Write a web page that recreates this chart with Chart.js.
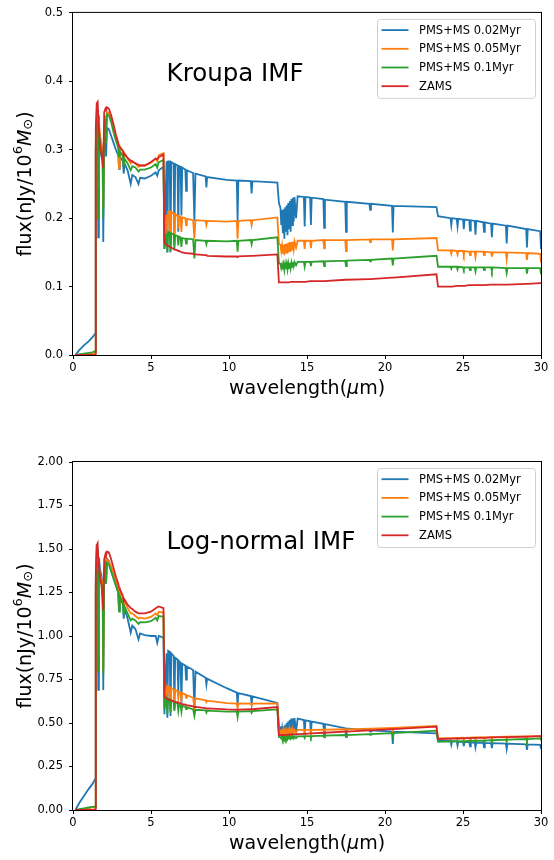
<!DOCTYPE html>
<html lang="en">
<head>
<meta charset="utf-8">
<title>SED: Kroupa vs Log-normal IMF</title>
<script src="https://cdn.jsdelivr.net/npm/chart.js"></script>
<style>
    body { margin: 0; background: #fff; }
    .chart-box { width: 554px; height: 430px; position: relative; }
    canvas { display: block; }
</style>
</head>
<body>
<div class="chart-box"><canvas id="kroupaChart" width="554" height="430"></canvas></div>
<div class="chart-box"><canvas id="lognormChart" width="554" height="430"></canvas></div>

<script>
// wavelength grid (micron), shared by every spectrum
const wavelength = [
    0.15, 0.4, 0.7, 1.0, 1.25, 1.44,
    1.46, 1.52, 1.58, 1.62, 1.66, 1.74, 1.82, 1.9, 1.94, 2.0,
    2.08, 2.12, 2.18, 2.3, 2.45, 2.6, 2.75, 2.9, 2.95, 3.0,
    3.2, 3.25, 3.3, 3.5, 3.7, 3.8, 4.0, 4.2, 4.3, 4.6,
    5.0, 5.3, 5.4, 5.5, 5.8,
    5.86, 5.92, 6.0, 6.05, 6.1, 6.2, 6.25, 6.3, 6.45, 6.5,
    6.55, 6.7, 6.75, 6.8, 6.9, 6.95, 7.0, 7.2, 7.25, 7.3,
    7.7, 7.78, 7.85, 8.5, 8.55, 8.6, 9.85, 10.5, 10.55, 10.6,
    11.4, 11.45, 11.5, 13.1,
    13.2, 13.3, 13.35, 13.4, 13.45, 13.5, 13.55, 13.6, 13.65, 13.7,
    13.75, 13.8, 13.85, 13.9, 13.95, 14.0, 14.05, 14.1, 14.15, 14.2,
    14.3, 14.4,
    14.8, 14.85, 14.9, 15.2, 15.25, 15.3, 16.05, 16.1,
    16.15, 17.45, 17.5, 17.55, 19.0, 19.05, 19.1, 20.45, 20.5, 20.55,
    23.3,
    23.4, 24.2, 24.25, 24.3, 24.6, 24.65, 24.7, 25.0, 25.05, 25.1,
    25.4, 25.45, 25.5, 25.75, 25.8, 25.85, 26.3, 26.35, 26.4, 26.8,
    26.85, 26.9, 27.75, 27.8, 27.85, 29.05, 29.1, 29.15, 29.95, 30.0
];

const seriesNames = ["PMS+MS 0.02Myr", "PMS+MS 0.05Myr", "PMS+MS 0.1Myr", "ZAMS"];
const seriesColors = ["#1f77b4", "#ff7f0e", "#2ca02c", "#d62728"];

const xTicks = [0, 5, 10, 15, 20, 25, 30];
const kroupaTicks = [0, 0.1, 0.2, 0.3, 0.4, 0.5];
const lognormTicks = [0, 0.25, 0.5, 0.75, 1.0, 1.25, 1.5, 1.75, 2.0];

// Kroupa IMF, flux (nJy / 1e6 Msun)
const kroupa002 = [
    0, 0.007, 0.014, 0.02, 0.026, 0.032,
    0.30, 0.335, 0.33, 0.172, 0.32, 0.30, 0.29, 0.285, 0.165, 0.31,
    0.325, 0.29, 0.332, 0.33, 0.32, 0.31, 0.30, 0.292, 0.272, 0.29,
    0.283, 0.265, 0.28, 0.27, 0.25, 0.263, 0.26, 0.25, 0.259, 0.258,
    0.262, 0.267, 0.262, 0.27, 0.275,
    0.155, 0.22, 0.283, 0.15, 0.283, 0.283, 0.15, 0.282, 0.28, 0.16,
    0.279, 0.277, 0.18, 0.276, 0.275, 0.204, 0.274, 0.271, 0.24, 0.27,
    0.266, 0.196, 0.265, 0.261, 0.245, 0.26, 0.256, 0.255, 0.196, 0.255,
    0.254, 0.236, 0.254, 0.252,
    0.222, 0.215, 0.19, 0.212, 0.178, 0.213, 0.17, 0.216, 0.18, 0.219,
    0.175, 0.222, 0.185, 0.225, 0.18, 0.228, 0.19, 0.23, 0.195, 0.231,
    0.2, 0.232,
    0.231, 0.188, 0.231, 0.23, 0.19, 0.23, 0.228, 0.186,
    0.227, 0.224, 0.18, 0.224, 0.221, 0.212, 0.221, 0.218, 0.179, 0.218,
    0.216,
    0.203, 0.2, 0.19, 0.2, 0.199, 0.188, 0.199, 0.198, 0.184, 0.198,
    0.197, 0.182, 0.197, 0.196, 0.176, 0.196, 0.194, 0.18, 0.194, 0.192,
    0.172, 0.192, 0.189, 0.163, 0.189, 0.184, 0.157, 0.184, 0.181, 0.155
];
const kroupa005 = [
    0, 0, 0.001, 0.002, 0.003, 0.004,
    0.31, 0.352, 0.345, 0.244, 0.34, 0.32, 0.31, 0.30, 0.216, 0.33,
    0.35, 0.33, 0.355, 0.354, 0.345, 0.332, 0.32, 0.31, 0.273, 0.305,
    0.298, 0.28, 0.295, 0.287, 0.28, 0.283, 0.28, 0.275, 0.277, 0.277,
    0.281, 0.287, 0.283, 0.292, 0.295,
    0.16, 0.19, 0.205, 0.17, 0.21, 0.21, 0.17, 0.209, 0.207, 0.175,
    0.206, 0.204, 0.185, 0.203, 0.202, 0.18, 0.201, 0.2, 0.19, 0.199,
    0.197, 0.17, 0.197, 0.196, 0.19, 0.196, 0.195, 0.196, 0.17, 0.196,
    0.197, 0.19, 0.197, 0.201,
    0.163, 0.161, 0.152, 0.16, 0.148, 0.161, 0.146, 0.162, 0.149, 0.163,
    0.148, 0.164, 0.152, 0.165, 0.151, 0.165, 0.154, 0.166, 0.155, 0.166,
    0.157, 0.167,
    0.167, 0.155, 0.167, 0.167, 0.156, 0.167, 0.168, 0.156,
    0.168, 0.168, 0.152, 0.168, 0.169, 0.165, 0.169, 0.169, 0.153, 0.169,
    0.171,
    0.153, 0.153, 0.148, 0.153, 0.152, 0.147, 0.152, 0.152, 0.147, 0.152,
    0.151, 0.146, 0.151, 0.151, 0.143, 0.151, 0.151, 0.146, 0.151, 0.15,
    0.144, 0.15, 0.15, 0.14, 0.15, 0.149, 0.139, 0.149, 0.148, 0.135
];
const kroupa01 = [
    0, 0.001, 0.002, 0.003, 0.004, 0.006,
    0.30, 0.342, 0.335, 0.2, 0.33, 0.31, 0.3, 0.29, 0.2, 0.32,
    0.345, 0.31, 0.352, 0.35, 0.34, 0.325, 0.313, 0.303, 0.29, 0.298,
    0.29, 0.275, 0.287, 0.28, 0.27, 0.276, 0.274, 0.268, 0.271, 0.271,
    0.274, 0.279, 0.274, 0.282, 0.285,
    0.155, 0.165, 0.178, 0.15, 0.18, 0.179, 0.152, 0.178, 0.176, 0.155,
    0.175, 0.174, 0.16, 0.173, 0.172, 0.158, 0.171, 0.17, 0.163, 0.17,
    0.169, 0.141, 0.168, 0.167, 0.162, 0.167, 0.166, 0.167, 0.151, 0.167,
    0.168, 0.162, 0.168, 0.172,
    0.134, 0.133, 0.127, 0.132, 0.125, 0.132, 0.124, 0.133, 0.126, 0.133,
    0.125, 0.134, 0.127, 0.135, 0.127, 0.135, 0.129, 0.136, 0.13, 0.136,
    0.131, 0.136,
    0.136, 0.129, 0.136, 0.136, 0.13, 0.136, 0.137, 0.13,
    0.137, 0.138, 0.13, 0.138, 0.139, 0.137, 0.139, 0.141, 0.131, 0.141,
    0.145,
    0.129, 0.129, 0.126, 0.129, 0.129, 0.125, 0.129, 0.128, 0.125, 0.128,
    0.128, 0.124, 0.128, 0.128, 0.122, 0.128, 0.128, 0.124, 0.128, 0.128,
    0.123, 0.128, 0.127, 0.12, 0.127, 0.127, 0.119, 0.127, 0.127, 0.118
];
const kroupaZams = [
    0, 0, 0, 0, 0, 0.001,
    0.33, 0.368, 0.37, 0.35, 0.33, 0.30, 0.295, 0.28, 0.273, 0.355,
    0.36, 0.358, 0.362, 0.36, 0.35, 0.337, 0.322, 0.31, 0.305, 0.305,
    0.298, 0.292, 0.294, 0.288, 0.284, 0.283, 0.28, 0.278, 0.277, 0.277,
    0.282, 0.287, 0.286, 0.289, 0.293,
    0.165, 0.162, 0.161, 0.16, 0.16, 0.158, 0.157, 0.157, 0.155, 0.154,
    0.154, 0.153, 0.152, 0.152, 0.151, 0.15, 0.15, 0.149, 0.149, 0.149,
    0.148, 0.147, 0.147, 0.146, 0.146, 0.145, 0.144, 0.144, 0.143, 0.144,
    0.145, 0.145, 0.145, 0.147,
    0.106, 0.106, 0.106, 0.106, 0.106, 0.106, 0.106, 0.106, 0.106, 0.106,
    0.106, 0.106, 0.106, 0.106, 0.107, 0.107, 0.107, 0.107, 0.107, 0.107,
    0.107, 0.107,
    0.107, 0.107, 0.107, 0.108, 0.108, 0.108, 0.108, 0.108,
    0.108, 0.11, 0.11, 0.11, 0.111, 0.111, 0.111, 0.113, 0.113, 0.113,
    0.118,
    0.1, 0.1, 0.1, 0.1, 0.101, 0.101, 0.101, 0.101, 0.101, 0.101,
    0.102, 0.102, 0.102, 0.102, 0.102, 0.102, 0.102, 0.102, 0.102, 0.103,
    0.103, 0.103, 0.103, 0.103, 0.103, 0.104, 0.104, 0.104, 0.105, 0.105
];

// Log-normal IMF
const lognorm002 = [
    0, 0.04, 0.08, 0.12, 0.15, 0.18,
    1.3, 1.51, 1.5, 0.69, 1.45, 1.38, 1.35, 1.3, 0.69, 1.35,
    1.42, 1.3, 1.445, 1.43, 1.38, 1.33, 1.29, 1.25, 1.15, 1.23,
    1.18, 1.1, 1.16, 1.1, 1.02, 1.06, 1.04, 0.98, 1.015, 1.005,
    1.0, 1.0, 0.96, 1.0, 0.99,
    0.55, 0.75, 0.9, 0.53, 0.915, 0.91, 0.54, 0.9, 0.885, 0.58,
    0.875, 0.865, 0.66, 0.855, 0.845, 0.613, 0.84, 0.83, 0.75, 0.825,
    0.805, 0.575, 0.795, 0.76, 0.72, 0.755, 0.7, 0.675, 0.6, 0.672,
    0.655, 0.61, 0.653, 0.615,
    0.48, 0.475, 0.44, 0.47, 0.42, 0.48, 0.41, 0.49, 0.42, 0.5,
    0.42, 0.51, 0.43, 0.518, 0.43, 0.525, 0.44, 0.527, 0.45, 0.528,
    0.45, 0.525,
    0.517, 0.43, 0.515, 0.51, 0.44, 0.508, 0.495, 0.43,
    0.494, 0.47, 0.42, 0.469, 0.458, 0.45, 0.458, 0.45, 0.38, 0.45,
    0.44,
    0.402, 0.397, 0.375, 0.396, 0.394, 0.37, 0.393, 0.392, 0.368, 0.391,
    0.39, 0.366, 0.389, 0.388, 0.36, 0.387, 0.386, 0.36, 0.386, 0.384,
    0.355, 0.384, 0.381, 0.35, 0.381, 0.377, 0.345, 0.377, 0.374, 0.35
];
const lognorm005 = [
    0, 0, 0.005, 0.01, 0.015, 0.02,
    1.3, 1.45, 1.44, 0.9, 1.4, 1.35, 1.33, 1.3, 0.8, 1.38,
    1.42, 1.35, 1.44, 1.43, 1.4, 1.36, 1.32, 1.28, 1.18, 1.26,
    1.22, 1.16, 1.2, 1.16, 1.13, 1.13, 1.115, 1.1, 1.105, 1.1,
    1.11, 1.13, 1.12, 1.14, 1.135,
    0.63, 0.67, 0.7, 0.62, 0.71, 0.705, 0.62, 0.7, 0.695, 0.63,
    0.69, 0.685, 0.64, 0.68, 0.675, 0.63, 0.672, 0.665, 0.645, 0.66,
    0.645, 0.59, 0.642, 0.63, 0.62, 0.628, 0.614, 0.612, 0.585, 0.612,
    0.611, 0.6, 0.611, 0.612,
    0.46, 0.457, 0.44, 0.455, 0.43, 0.456, 0.43, 0.457, 0.435, 0.457,
    0.435, 0.458, 0.44, 0.459, 0.44, 0.46, 0.445, 0.46, 0.445, 0.46,
    0.447, 0.46,
    0.46, 0.445, 0.46, 0.46, 0.447, 0.46, 0.462, 0.448,
    0.462, 0.464, 0.45, 0.464, 0.468, 0.462, 0.468, 0.472, 0.455, 0.472,
    0.483,
    0.412, 0.413, 0.405, 0.413, 0.414, 0.406, 0.414, 0.415, 0.407, 0.415,
    0.416, 0.408, 0.416, 0.417, 0.405, 0.417, 0.418, 0.41, 0.418, 0.419,
    0.408, 0.419, 0.421, 0.405, 0.421, 0.423, 0.405, 0.423, 0.425, 0.41
];
const lognorm01 = [
    0, 0.005, 0.01, 0.015, 0.018, 0.02,
    1.25, 1.42, 1.41, 0.8, 1.38, 1.33, 1.3, 1.27, 0.78, 1.36,
    1.4, 1.3, 1.42, 1.41, 1.37, 1.33, 1.29, 1.25, 1.14, 1.23,
    1.19, 1.12, 1.17, 1.13, 1.09, 1.1, 1.09, 1.07, 1.08, 1.078,
    1.085, 1.105, 1.09, 1.115, 1.11,
    0.58, 0.61, 0.635, 0.55, 0.64, 0.635, 0.56, 0.63, 0.622, 0.57,
    0.618, 0.612, 0.57, 0.605, 0.6, 0.565, 0.598, 0.593, 0.58, 0.59,
    0.578, 0.54, 0.576, 0.572, 0.56, 0.571, 0.565, 0.566, 0.535, 0.566,
    0.568, 0.558, 0.568, 0.578,
    0.42, 0.419, 0.41, 0.418, 0.405, 0.418, 0.404, 0.419, 0.407, 0.419,
    0.407, 0.42, 0.41, 0.42, 0.41, 0.421, 0.412, 0.421, 0.412, 0.422,
    0.413, 0.423,
    0.424, 0.414, 0.424, 0.425, 0.415, 0.425, 0.427, 0.417,
    0.427, 0.431, 0.42, 0.431, 0.436, 0.432, 0.436, 0.442, 0.43, 0.442,
    0.456,
    0.392, 0.394, 0.388, 0.394, 0.395, 0.389, 0.395, 0.396, 0.39, 0.396,
    0.397, 0.391, 0.397, 0.398, 0.39, 0.398, 0.399, 0.393, 0.399, 0.401,
    0.393, 0.401, 0.404, 0.392, 0.404, 0.408, 0.395, 0.408, 0.412, 0.4
];
const lognormZams = [
    0, 0, 0, 0, 0, 0.005,
    1.35, 1.52, 1.533, 1.45, 1.4, 1.33, 1.3, 1.2, 1.149, 1.44,
    1.47, 1.46, 1.485, 1.48, 1.44, 1.39, 1.34, 1.3, 1.28, 1.27,
    1.23, 1.2, 1.21, 1.18, 1.16, 1.155, 1.14, 1.13, 1.13, 1.13,
    1.14, 1.16, 1.165, 1.17, 1.16,
    0.65, 0.645, 0.64, 0.638, 0.636, 0.633, 0.631, 0.63, 0.625, 0.623,
    0.622, 0.618, 0.616, 0.615, 0.612, 0.61, 0.609, 0.605, 0.603, 0.602,
    0.595, 0.592, 0.593, 0.585, 0.583, 0.584, 0.578, 0.577, 0.572, 0.577,
    0.579, 0.578, 0.579, 0.592,
    0.43, 0.43, 0.431, 0.431, 0.431, 0.431, 0.432, 0.432, 0.432, 0.432,
    0.433, 0.433, 0.433, 0.433, 0.434, 0.434, 0.434, 0.434, 0.435, 0.435,
    0.435, 0.436,
    0.438, 0.438, 0.438, 0.44, 0.44, 0.44, 0.444, 0.444,
    0.444, 0.45, 0.45, 0.45, 0.458, 0.458, 0.458, 0.465, 0.465, 0.465,
    0.479,
    0.408, 0.41, 0.41, 0.41, 0.411, 0.411, 0.411, 0.412, 0.412, 0.412,
    0.413, 0.413, 0.413, 0.414, 0.414, 0.414, 0.415, 0.415, 0.415, 0.417,
    0.417, 0.417, 0.419, 0.419, 0.419, 0.422, 0.422, 0.422, 0.425, 0.425
];

const FONT = '"DejaVu Sans", sans-serif';

// draws a row of text pieces centred at (0,0) of the current transform
function drawPieces(ctx, pieces) {
    let total = 0;
    pieces.forEach(p => { ctx.font = p.font; p.w = ctx.measureText(p.t).width; total += p.w; });
    let x = -total / 2;
    pieces.forEach(p => {
        ctx.font = p.font;
        ctx.fillText(p.t, x, p.dy || 0);
        x += p.w;
    });
}

// frame, panel title, legend and axis titles (matplotlib look)
const decorPlugin = {
    id: 'decor',
    afterDatasetsDraw(chart, args, opts) {
        const { ctx, chartArea: a, scales } = chart;
        ctx.save();

        ctx.strokeStyle = '#000';
        ctx.lineWidth = 1;
        ctx.strokeRect(a.left - 0.5, a.top - 0.5, a.right - a.left + 1, a.bottom - a.top + 1);

        ctx.fillStyle = '#000';
        ctx.font = '24.5px ' + FONT;
        ctx.textBaseline = 'alphabetic';
        ctx.textAlign = 'left';
        ctx.fillText(opts.title, scales.x.getPixelForValue(opts.titleAt[0]), scales.y.getPixelForValue(opts.titleAt[1]));

        // legend box
        const bw = 158, bh = 79;
        const bx = a.right - 6 - bw, by = a.top + 6.5;
        ctx.beginPath();
        ctx.roundRect(bx + 0.5, by, bw, bh, 3);
        ctx.fillStyle = 'rgba(255,255,255,0.8)';
        ctx.fill();
        ctx.strokeStyle = '#d0d0d0';
        ctx.lineWidth = 1;
        ctx.stroke();
        ctx.font = '11.5px ' + FONT;
        ctx.textBaseline = 'middle';
        seriesNames.forEach((name, i) => {
            const y = by + 10.7 + i * 18.7;
            ctx.beginPath();
            ctx.moveTo(bx + 4.5, y);
            ctx.lineTo(bx + 31.5, y);
            ctx.strokeStyle = seriesColors[i];
            ctx.lineWidth = 1.8;
            ctx.stroke();
            ctx.fillStyle = '#000';
            ctx.fillText(name, bx + 42, y + 0.5);
        });

        // x axis title
        ctx.fillStyle = '#000';
        ctx.textBaseline = 'middle';
        ctx.save();
        ctx.translate((a.left + a.right) / 2, a.bottom + 34);
        drawPieces(ctx, [
            { t: 'wavelength(', font: '19px ' + FONT },
            { t: 'μ', font: 'italic 19px ' + FONT },
            { t: 'm)', font: '19px ' + FONT }
        ]);
        ctx.restore();

        // y axis title
        ctx.save();
        ctx.translate(a.left - 47, (a.top + a.bottom) / 2);
        ctx.rotate(-Math.PI / 2);
        drawPieces(ctx, [
            { t: 'flux(nJy/10', font: '19px ' + FONT },
            { t: '6', font: '13px ' + FONT, dy: -7 },
            { t: 'M', font: 'italic 19px ' + FONT },
            { t: '⊙', font: '13px ' + FONT, dy: 3 },
            { t: ')', font: '19px ' + FONT }
        ]);
        ctx.restore();

        ctx.restore();
    }
};

function makeChart(canvasId, series, yMax, yTicks, decimals, title, titleAt, padTop, xHeight) {
    const ctx = document.getElementById(canvasId).getContext('2d');
    return new Chart(ctx, {
        type: 'line',
        data: {
            datasets: series.map((vals, i) => ({
                label: seriesNames[i],
                data: wavelength.map((w, j) => ({ x: w, y: vals[j] })),
                borderColor: seriesColors[i],
                backgroundColor: seriesColors[i],
                borderWidth: 1.8,
                pointRadius: 0,
                tension: 0,
                fill: false,
                order: series.length - i
            }))
        },
        options: {
            responsive: false,
            animation: false,
            devicePixelRatio: 1,
            layout: { padding: { top: padTop, right: 13, left: 0, bottom: 0 } },
            plugins: {
                legend: { display: false },
                tooltip: { enabled: false },
                decor: { title: title, titleAt: titleAt }
            },
            scales: {
                x: {
                    type: 'linear',
                    min: 0,
                    max: 30,
                    afterBuildTicks: axis => { axis.ticks = xTicks.map(v => ({ value: v })); },
                    afterFit: axis => { axis.height = xHeight; },
                    ticks: { color: '#000', font: { family: FONT, size: 11.5 }, padding: 2, maxRotation: 0 },
                    grid: { drawOnChartArea: false, color: '#000', tickLength: 4 },
                    border: { display: false }
                },
                y: {
                    min: 0,
                    max: yMax,
                    afterBuildTicks: axis => { axis.ticks = yTicks.map(v => ({ value: v })); },
                    afterFit: axis => { axis.width = 73; },
                    ticks: {
                        color: '#000',
                        font: { family: FONT, size: 11.5 },
                        padding: 6,
                        callback: v => Number(v).toFixed(decimals)
                    },
                    grid: { drawOnChartArea: false, color: '#000', tickLength: 4 },
                    border: { display: false }
                }
            }
        },
        plugins: [decorPlugin]
    });
}

makeChart('kroupaChart', [kroupa002, kroupa005, kroupa01, kroupaZams],
    0.5, kroupaTicks, 1, 'Kroupa IMF', [6, 0.4], 7, 75);
makeChart('lognormChart', [lognorm002, lognorm005, lognorm01, lognormZams],
    2.0, lognormTicks, 2, 'Log-normal IMF', [6, 1.5], 32, 50);
</script>
</body>
</html>
